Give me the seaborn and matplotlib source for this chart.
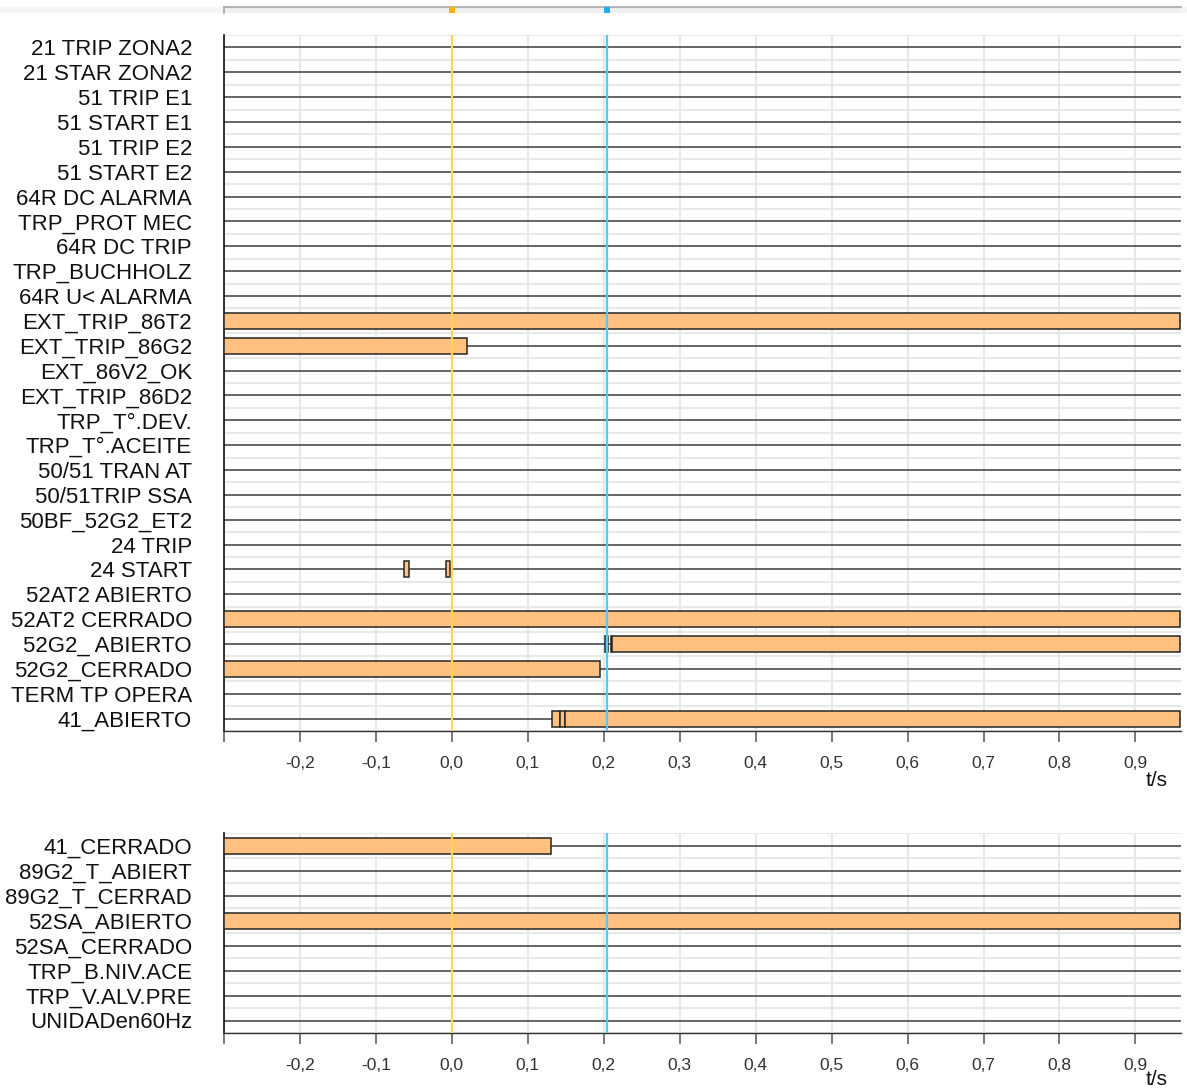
import numpy as np
import pandas as pd
import matplotlib
matplotlib.use("Agg")
import matplotlib.pyplot as plt
import seaborn as sns

# ---------------- data ----------------
top_signals = [
    "21 TRIP ZONA2", "21 STAR ZONA2", "51 TRIP E1", "51 START E1", "51 TRIP E2",
    "51 START E2", "64R DC ALARMA", "TRP_PROT MEC", "64R DC TRIP", "TRP_BUCHHOLZ",
    "64R U< ALARMA", "EXT_TRIP_86T2", "EXT_TRIP_86G2", "EXT_86V2_OK", "EXT_TRIP_86D2",
    "TRP_T°.DEV.", "TRP_T°.ACEITE", "50/51 TRAN AT", "50/51TRIP SSA", "50BF_52G2_ET2",
    "24 TRIP", "24 START", "52AT2 ABIERTO", "52AT2 CERRADO", "52G2_ ABIERTO",
    "52G2_CERRADO", "TERM TP OPERA", "41_ABIERTO",
]
bottom_signals = [
    "41_CERRADO", "89G2_T_ABIERT", "89G2_T_CERRAD", "52SA_ABIERTO",
    "52SA_CERRADO", "TRP_B.NIV.ACE", "TRP_V.ALV.PRE", "UNIDADen60Hz",
]

seg_signal = ["EXT_TRIP_86T2", "EXT_TRIP_86G2", "24 START", "24 START",
              "52AT2 CERRADO", "52G2_ ABIERTO", "52G2_ ABIERTO", "52G2_ ABIERTO",
              "52G2_CERRADO", "41_ABIERTO", "41_ABIERTO", "41_ABIERTO",
              "41_CERRADO", "52SA_ABIERTO"]
seg_start = [-0.300, -0.300, -0.063, -0.008,
             -0.300, 0.202, 0.209, 0.211,
             -0.300, 0.132, 0.143, 0.149,
             -0.300, -0.300]
seg_end = [0.959, 0.020, -0.057, -0.002,
           0.959, 0.205, 0.211, 0.959,
           0.195, 0.143, 0.149, 0.959,
           0.130, 0.959]

cursor_times = [0.0, 0.204]
cursor_line_colors = ["#FFD450", "#5CC6F2"]
cursor_mark_colors = ["#F7B500", "#1FAEEF"]

tick_values = [-0.3, -0.2, -0.1, 0.0, 0.1, 0.2, 0.3, 0.4, 0.5, 0.6, 0.7, 0.8, 0.9]
tick_labels = ["", "-0,2", "-0,1", "0,0", "0,1", "0,2", "0,3", "0,4", "0,5",
               "0,6", "0,7", "0,8", "0,9"]
x_range = (-0.30, 0.96)
axis_label = "t/s"

segments = pd.DataFrame({"signal": seg_signal, "start": seg_start, "end": seg_end})

# ---------------- style ----------------
sns.set_theme(style="white")
plt.rcParams["font.family"] = ["Liberation Sans", "DejaVu Sans"]

W, H = 1187, 1090
fig = plt.figure(figsize=(W / 100, H / 100), dpi=100)


def frac_box(x0, y0, x1, y1):
    """pixel box (top-left origin) -> figure fraction rect"""
    return [x0 / W, 1 - y1 / H, (x1 - x0) / W, (y1 - y0) / H]


BAR_FILL = "#FFC080"
BAR_EDGE = "#262626"
GRID = "#E8E8E8"


def draw_panel(ax, signals, px_height, label_offset):
    n = len(signals)
    pos = {s: i for i, s in enumerate(signals)}
    ax.set_xlim(*x_range)
    ax.set_ylim(n - 0.5, -0.5)

    # baselines
    ax.hlines(np.arange(n), x_range[0], x_range[1], color="#3c3c3c", lw=1.1, zorder=2)

    sub = segments[segments["signal"].isin(signals)]
    ax.barh(sub["signal"].map(pos), sub["end"] - sub["start"], left=sub["start"],
            height=0.64, color=BAR_FILL, edgecolor=BAR_EDGE, linewidth=1.1, zorder=3)

    for t, c in zip(cursor_times, cursor_line_colors):
        ax.axvline(t, color=c, lw=1.6, zorder=6)

    ax.set_yticks(np.arange(n))
    ax.set_yticklabels(signals)
    ax.set_yticks(np.arange(n + 1) - 0.5, minor=True)
    ax.tick_params(axis="y", which="both", length=0, pad=23, labelsize=16,
                   labelcolor="#111111")

    ax.set_xticks(tick_values)
    ax.set_xticklabels(tick_labels)
    ax.tick_params(axis="x", which="major", length=8, width=1.1, color="#555555",
                   pad=10, labelsize=12.5, labelcolor="#333333", bottom=True)

    ax.grid(True, axis="x", which="major", color=GRID, lw=1.5, zorder=0)
    ax.grid(True, axis="y", which="minor", color=GRID, lw=1.5, zorder=0)
    ax.grid(False, axis="y", which="major")
    ax.set_axisbelow(True)

    sns.despine(ax=ax, top=True, right=True)
    ax.spines["left"].set_color("#111111")
    ax.spines["left"].set_linewidth(1.2)
    ax.spines["bottom"].set_color("#333333")
    ax.spines["bottom"].set_linewidth(1.0)

    ax.set_xlabel(axis_label, fontsize=15, color="#111111", loc="right")
    ax.xaxis.set_label_coords((1168 - 224) / (1181 - 224), -label_offset / px_height)
    ax.set_ylabel("")


# cursor strip at top (background band drawn underneath everything)
band = plt.Rectangle((0, 1 - 13 / H), 1, 6 / H, transform=fig.transFigure,
                     facecolor="#F5F5F5", edgecolor="none", zorder=-5)
fig.add_artist(band)
ax_s = fig.add_axes(frac_box(224, 7, 1181, 12.5))
ax_s.set_zorder(2)
ax_s.set_facecolor("#EFEFEF")
ax_s.set_xlim(*x_range)
ax_s.set_ylim(0, 1)
ax_s.set_xticks([])
ax_s.set_yticks([])
for side in ["right", "bottom"]:
    ax_s.spines[side].set_visible(False)
for side in ["top", "left"]:
    ax_s.spines[side].set_color("#A8A8A8")
    ax_s.spines[side].set_linewidth(1.2)
for t, c in zip(cursor_times, cursor_mark_colors):
    ax_s.plot([t], [0.5], marker="s", markersize=4.0, color=c, markeredgewidth=0,
              linestyle="none", clip_on=False, zorder=10)

# main panels
ax_top = fig.add_axes(frac_box(224, 35, 1181, 731))
draw_panel(ax_top, top_signals, 731 - 35, 40)

ax_bot = fig.add_axes(frac_box(224, 833, 1181, 1033))
draw_panel(ax_bot, bottom_signals, 1033 - 833, 37)

fig.savefig("out.png", dpi=100)
